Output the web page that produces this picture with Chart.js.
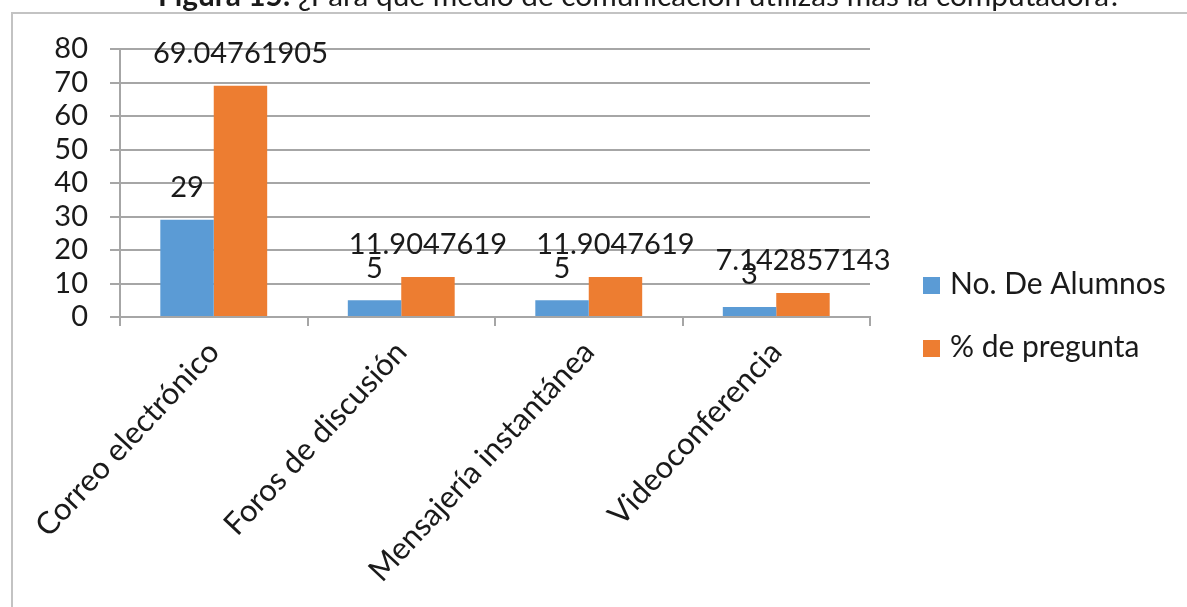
<!DOCTYPE html>
<html>
<head>
<meta charset="utf-8">
<script src="https://cdn.jsdelivr.net/npm/chart.js@4.4.1/dist/chart.umd.min.js"></script>
<style>
  html, body { margin: 0; padding: 0; background: #ffffff; }
  #wrap { width: 1187px; height: 607px; position: relative; }
</style>
</head>
<body>
<div id="wrap"><canvas id="c" width="1187" height="607"></canvas></div>
<script>
// ---- data ----
const categories = ["Correo electrónico", "Foros de discusión", "Mensajería instantánea", "Videoconferencia"];
const seriesNames = ["No. De Alumnos", "% de pregunta"];
const alumnos = [29, 5, 5, 3];
const porcentaje = [69.04761905, 11.9047619, 11.9047619, 7.142857143];
const yTicks = [0, 10, 20, 30, 40, 50, 60, 70, 80];
const titleBold = "Figura 15:";
const titleRest = "¿Para qué medio de comunicación utilizas más la computadora?";

const FONT = "Lato, 'Open Sans', sans-serif";
const TEXT = "#1a1a1a";
const GRID = "#a6a6a6";

const framePlugin = {
  id: 'frame',
  beforeDraw(chart) {
    const ctx = chart.ctx;
    ctx.save();
    ctx.fillStyle = '#ffffff';
    ctx.fillRect(0, 0, chart.width, chart.height);
    ctx.strokeStyle = '#c3c3c3';
    ctx.lineWidth = 2;
    ctx.beginPath();
    ctx.moveTo(12, chart.height);
    ctx.lineTo(12, 13);
    ctx.lineTo(chart.width, 13);
    ctx.stroke();
    // title (partially cut at the top)
    ctx.fillStyle = TEXT;
    ctx.textBaseline = 'alphabetic';
    ctx.font = "100px " + FONT;
    const w100 = ctx.measureText(titleRest).width;
    const size = 100 * 824 / w100;
    ctx.font = size + "px " + FONT;
    ctx.textAlign = 'left';
    ctx.fillText(titleRest, 298, 6);
    const sp = ctx.measureText(' ').width;
    ctx.font = "bold " + size + "px " + FONT;
    ctx.textAlign = 'right';
    ctx.fillText(titleBold, 298 - sp, 6);
    ctx.restore();
  }
};

const labelPlugin = {
  id: 'vlabels',
  afterDatasetsDraw(chart) {
    const ctx = chart.ctx;
    ctx.save();
    ctx.font = "29px " + FONT;
    ctx.fillStyle = TEXT;
    ctx.textAlign = 'center';
    ctx.textBaseline = 'middle';
    chart.data.datasets.forEach((ds, i) => {
      const meta = chart.getDatasetMeta(i);
      meta.data.forEach((el, j) => {
        ctx.fillText(String(ds.data[j]), el.x, el.y - 32);
      });
    });
    ctx.restore();
  }
};

const legendPlugin = {
  id: 'sideLegend',
  afterDraw(chart) {
    const ctx = chart.ctx;
    ctx.save();
    ctx.font = "30px " + FONT;
    ctx.textAlign = 'left';
    ctx.textBaseline = 'middle';
    const ys = [285, 348];
    chart.data.datasets.forEach((ds, i) => {
      ctx.fillStyle = ds.backgroundColor;
      ctx.fillRect(923, ys[i] - 8, 17, 17);
      ctx.fillStyle = TEXT;
      ctx.fillText(ds.label, 950, ys[i] - 1);
    });
    ctx.restore();
  }
};

new Chart(document.getElementById('c'), {
  type: 'bar',
  data: {
    labels: categories,
    datasets: [
      { label: seriesNames[0], data: alumnos, backgroundColor: '#5b9bd5' },
      { label: seriesNames[1], data: porcentaje, backgroundColor: '#ed7d31' }
    ]
  },
  options: {
    responsive: false,
    animation: false,
    devicePixelRatio: 1,
    layout: { padding: { left: 0, right: 317, top: 49, bottom: 0 } },
    datasets: { bar: { categoryPercentage: 0.57, barPercentage: 1.0 } },
    plugins: { legend: { display: false }, tooltip: { enabled: false }, title: { display: false } },
    scales: {
      x: {
        grid: { display: true, drawOnChartArea: false, drawTicks: true, tickLength: 9, color: GRID, lineWidth: 2, offset: true },
        border: { display: true, color: GRID, width: 2 },
        ticks: { font: { size: 31, family: FONT }, color: TEXT, minRotation: 47, maxRotation: 47, autoSkip: false, padding: 8 },
        afterFit(s) { s.height = 607 - 317; }
      },
      y: {
        min: 0, max: 80,
        afterBuildTicks(s) { s.ticks = yTicks.map(v => ({ value: v })); },
        grid: { color: GRID, lineWidth: 2, tickLength: 10, drawTicks: true },
        border: { display: true, color: GRID, width: 2 },
        ticks: { font: { size: 29, family: FONT }, color: TEXT, padding: 22, autoSkip: false },
        afterFit(s) { s.width = 120; }
      }
    }
  },
  plugins: [framePlugin, labelPlugin, legendPlugin]
});
</script>
</body>
</html>
